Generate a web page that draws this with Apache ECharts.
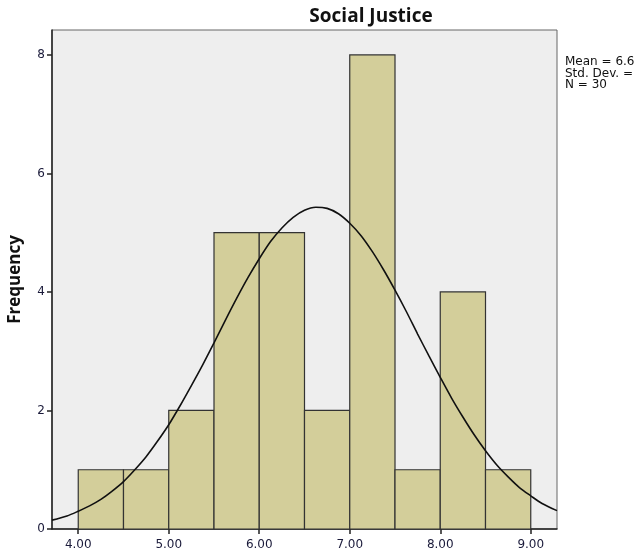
<!DOCTYPE html>
<html>
<head>
<meta charset="utf-8">
<script src="https://cdn.jsdelivr.net/npm/echarts@6/dist/echarts.min.js"></script>
<style>
  html, body { margin: 0; padding: 0; background: #fff; }
  #main { width: 639px; height: 553px; }
</style>
</head>
<body>
<div id="main"></div>
<script>
// histogram bins (left edge, right edge) and counts
var binStarts = [4.0, 4.5, 5.0, 5.5, 6.0, 6.5, 7.0, 7.5, 8.0, 8.5];
var binEnds   = [4.5, 5.0, 5.5, 6.0, 6.5, 7.0, 7.5, 8.0, 8.5, 9.0];
var counts    = [1, 1, 2, 5, 5, 2, 8, 1, 4, 1];

// normal curve
var curveX = [3.71, 3.875, 4.0, 4.125, 4.25, 4.375, 4.5, 4.625, 4.75, 4.875, 5.0, 5.125, 5.25, 5.375,
              5.5, 5.625, 5.75, 5.875, 6.0, 6.125, 6.25, 6.375, 6.5, 6.625, 6.75, 6.875, 7.0, 7.125,
              7.25, 7.375, 7.5, 7.625, 7.75, 7.875, 8.0, 8.125, 8.25, 8.375, 8.5, 8.625, 8.75, 8.875,
              9.0, 9.125, 9.29];
var curveY = [0.15, 0.22, 0.30, 0.39, 0.50, 0.64, 0.80, 1.00, 1.22, 1.48, 1.76, 2.08, 2.42, 2.77,
              3.14, 3.52, 3.89, 4.24, 4.56, 4.85, 5.08, 5.26, 5.38, 5.43, 5.41, 5.32, 5.16, 4.95,
              4.68, 4.37, 4.03, 3.67, 3.29, 2.92, 2.56, 2.21, 1.89, 1.59, 1.32, 1.08, 0.88, 0.70,
              0.56, 0.43, 0.31];

var xTicks = [4, 5, 6, 7, 8, 9];
var yTicks = [0, 2, 4, 6, 8];
var statLines = ['Mean = 6.6', 'Std. Dev. =', 'N = 30'];

var chart = echarts.init(document.getElementById('main'));

var barData = [];
for (var i = 0; i < counts.length; i++) {
  barData.push([binStarts[i], binEnds[i], counts[i]]);
}
var lineData = [];
for (var j = 0; j < curveX.length; j++) {
  lineData.push([curveX[j], curveY[j]]);
}

var option = {
  animation: false,
  title: {
    text: 'Social Justice',
    left: 366,
    top: 2,
    textAlign: 'center',
    textStyle: { fontFamily: 'Open Sans', fontWeight: 'bold', fontSize: 19, color: '#111' }
  },
  grid: {
    left: 52, top: 30, right: 82, bottom: 24,
    outerBoundsMode: 'none',
    containLabel: false,
    show: true,
    backgroundColor: '#eeeeee',
    borderColor: '#666',
    borderWidth: 1
  },
  xAxis: {
    type: 'value',
    min: 3.71,
    max: 9.29,
    axisLine: { show: true, onZero: false, lineStyle: { color: '#222', width: 1.5 } },
    axisTick: { show: true, length: 5, customValues: xTicks, lineStyle: { color: '#222', width: 1.5 } },
    axisLabel: {
      customValues: xTicks,
      margin: 10,
      fontFamily: 'DejaVu Sans',
      fontSize: 12,
      color: '#1a1a3a',
      formatter: function (v) { return v.toFixed(2); }
    },
    splitLine: { show: false }
  },
  yAxis: {
    type: 'value',
    min: 0,
    max: 8.42,
    name: 'Frequency',
    nameLocation: 'middle',
    nameGap: 28,
    nameTextStyle: { fontFamily: 'Open Sans', fontWeight: 'bold', fontSize: 17, color: '#111' },
    axisLine: { show: true, lineStyle: { color: '#222', width: 1.5 } },
    axisTick: { show: true, length: 5, customValues: yTicks, lineStyle: { color: '#222', width: 1.5 } },
    axisLabel: {
      customValues: yTicks,
      margin: 7,
      fontFamily: 'DejaVu Sans',
      fontSize: 12,
      color: '#1a1a3a'
    },
    splitLine: { show: false }
  },
  graphic: statLines.map(function (t, k) {
    return {
      type: 'text',
      left: 565,
      top: 56 + k * 11.5,
      style: { text: t, fontFamily: 'DejaVu Sans', fontSize: 12, fill: '#111' }
    };
  }),
  series: [
    {
      type: 'custom',
      data: barData,
      encode: { x: [0, 1], y: 2 },
      renderItem: function (params, api) {
        var p0 = api.coord([api.value(0), 0]);
        var p1 = api.coord([api.value(1), api.value(2)]);
        return {
          type: 'rect',
          shape: { x: p0[0], y: p1[1], width: p1[0] - p0[0], height: p0[1] - p1[1] },
          style: { fill: '#d3ce9a', stroke: '#333', lineWidth: 1.2 }
        };
      }
    },
    {
      type: 'line',
      data: lineData,
      smooth: 0.3,
      showSymbol: false,
      lineStyle: { color: '#111', width: 1.6 },
      z: 5
    }
  ]
};

chart.setOption(option);
</script>
</body>
</html>
